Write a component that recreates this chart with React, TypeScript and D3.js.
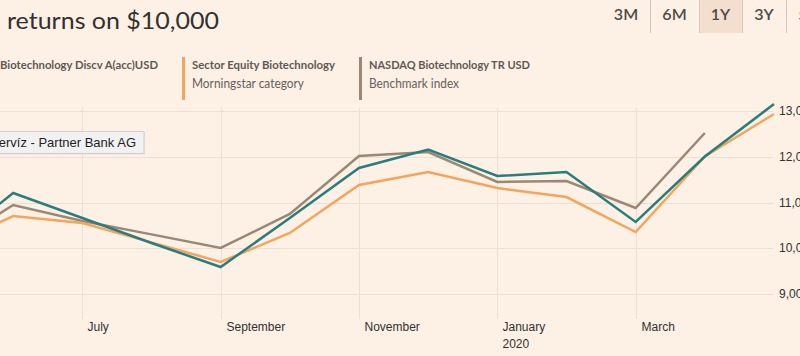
import React from 'react';
import * as d3 from 'd3';

const months = [
  '2019-05', '2019-06', '2019-07', '2019-08', '2019-09', '2019-10', '2019-11',
  '2019-12', '2020-01', '2020-02', '2020-03', '2020-04', '2020-05',
];
const fundValues = [10000, 11208, 10661, 10115, 9590, 10661, 11754, 12159, 11579, 11667, 10574, 12006, 13153];
const categoryValues = [10000, 10705, 10552, 10128, 9700, 10333, 11383, 11667, 11317, 11120, 10355, 12006, 12935];
const benchmarkValues = [10000, 10945, 10596, 10303, 10006, 10749, 12017, 12104, 11448, 11470, 10880, 12519];

const yTicks = [9000, 10000, 11000, 12000, 13000];
const xTickMonths = ['2019-07', '2019-09', '2019-11', '2020-01', '2020-03'];
const xTickLabels = ['July', 'September', 'November', 'January', 'March'];
const xTickSubLabels = ['', '', '', '2020', ''];
const rangeButtons = ['3M', '6M', '1Y', '3Y', '5Y'];
const selectedRange = '1Y';

const seriesNames = ['Biotechnology Discv A(acc)USD', 'Sector Equity Biotechnology', 'NASDAQ Biotechnology TR USD'];
const seriesSubtitles = ['', 'Morningstar category', 'Benchmark index'];
const seriesColors = ['#2a7d7d', '#f3a45e', '#9b8874'];
const titleText = 'returns on $10,000';
const tooltipText = 'ervíz - Partner Bank AG';

export default function App() {
  const W = 800;
  const H = 356;
  const x = d3.scalePoint<string>().domain(months).range([-56, 774]);
  const y = d3.scaleLinear().domain([9000, 13000]).range([294, 111]);
  const fmt = d3.format(',');
  const bg = '#fdf1e6';
  const grid = '#ecdfd3';
  const textDark = '#33302e';

  const line = d3
    .line<number>()
    .x((_, i) => x(months[i]) as number)
    .y((d) => y(d));

  const series = [fundValues, categoryValues, benchmarkValues];
  const drawOrder = [2, 1, 0];

  const buttonEdges = [602, 650, 699, 742, 786, 830];
  const legendX = [-30, 182, 359];
  const legendTextW = [158, 143, 161];
  const legendSubW = [0, 112, 90];

  const uiFont = 'Lato, "Open Sans", sans-serif';
  const axisFont = '"Liberation Sans", Arial, sans-serif';

  return (
    <svg
      width={W}
      height={H}
      style={{ position: 'absolute', left: 0, top: 0, background: bg }}
      xmlns="http://www.w3.org/2000/svg"
    >
      <rect x={0} y={0} width={W} height={H} fill={bg} />

      {/* title */}
      <text x={7} y={29} fontFamily={uiFont} fontSize={24} fill={textDark} textLength={212} lengthAdjust="spacingAndGlyphs">
        {titleText}
      </text>

      {/* range buttons */}
      {rangeButtons.map((b, i) => {
        const x0 = buttonEdges[i];
        const x1 = buttonEdges[i + 1];
        const sel = b === selectedRange;
        return (
          <g key={b}>
            {sel && <rect x={x0} y={0} width={x1 - x0} height={33} fill="#f2dfce" />}
            {(i > 0) && <line x1={x0 + 0.5} x2={x0 + 0.5} y1={0} y2={33} stroke="#d6c8bb" strokeWidth={1} />}
            <text
              x={(x0 + x1) / 2}
              y={19.5}
              textAnchor="middle"
              fontFamily={uiFont}
              fontSize={16}
              fontWeight={600}
              fill="#4e4945"
            >
              {b}
            </text>
          </g>
        );
      })}

      {/* legend */}
      {seriesNames.map((name, i) => (
        <g key={name}>
          <rect x={legendX[i]} y={57} width={3} height={43} fill={seriesColors[i]} />
          {i === 0 ? (
            <text x={158} y={69} textAnchor="end" fontFamily={uiFont} fontSize={11.5} fontWeight={700} fill="#5e5954" textLength={legendTextW[i]} lengthAdjust="spacingAndGlyphs">
              {name}
            </text>
          ) : (
            <text x={legendX[i] + 10} y={69} fontFamily={uiFont} fontSize={11.5} fontWeight={700} fill="#5e5954" textLength={legendTextW[i]} lengthAdjust="spacingAndGlyphs">
              {name}
            </text>
          )}
          {seriesSubtitles[i] && (
            <text x={legendX[i] + 10} y={88} fontFamily={uiFont} fontSize={12.5} fill="#66605c" textLength={legendSubW[i]} lengthAdjust="spacingAndGlyphs">
              {seriesSubtitles[i]}
            </text>
          )}
        </g>
      ))}

      {/* horizontal grid */}
      {yTicks.map((t) => (
        <g key={t}>
          <line x1={0} x2={773} y1={Math.round(y(t)) + 0.5} y2={Math.round(y(t)) + 0.5} stroke={grid} strokeWidth={1} />
          <text x={779} y={y(t)} dy="0.35em" fontFamily={axisFont} fontSize={12} fill={textDark}>
            {fmt(t)}
          </text>
        </g>
      ))}

      {/* vertical grid + x labels */}
      {xTickMonths.map((m, i) => {
        const xx = Math.round(x(m) as number) + 0.5;
        return (
          <g key={m}>
            <line x1={xx} x2={xx} y1={108} y2={319} stroke={grid} strokeWidth={1} />
            <text x={xx + 5} y={331} fontFamily={axisFont} fontSize={12} fill={textDark}>
              {xTickLabels[i]}
            </text>
            {xTickSubLabels[i] && (
              <text x={xx + 5} y={348} fontFamily={axisFont} fontSize={12} fill={textDark}>
                {xTickSubLabels[i]}
              </text>
            )}
          </g>
        );
      })}

      {/* lines */}
      {drawOrder.map((si) => (
        <path
          key={si}
          d={line(series[si]) || ''}
          fill="none"
          stroke={seriesColors[si]}
          strokeWidth={2.5}
          strokeLinejoin="miter"
        />
      ))}

      {/* tooltip */}
      <g>
        <rect x={-5} y={131.5} width={149} height={22} fill="#000" opacity={0.06} transform="translate(1,1)" />
        <rect x={-5} y={131.5} width={149} height={22} fill="#f1f1f1" stroke="#cfcfcf" strokeWidth={1} />
        <text x={136} y={146.5} textAnchor="end" fontFamily={axisFont} fontSize={13} fill="#1e1e1e">
          {tooltipText}
        </text>
      </g>
    </svg>
  );
}
